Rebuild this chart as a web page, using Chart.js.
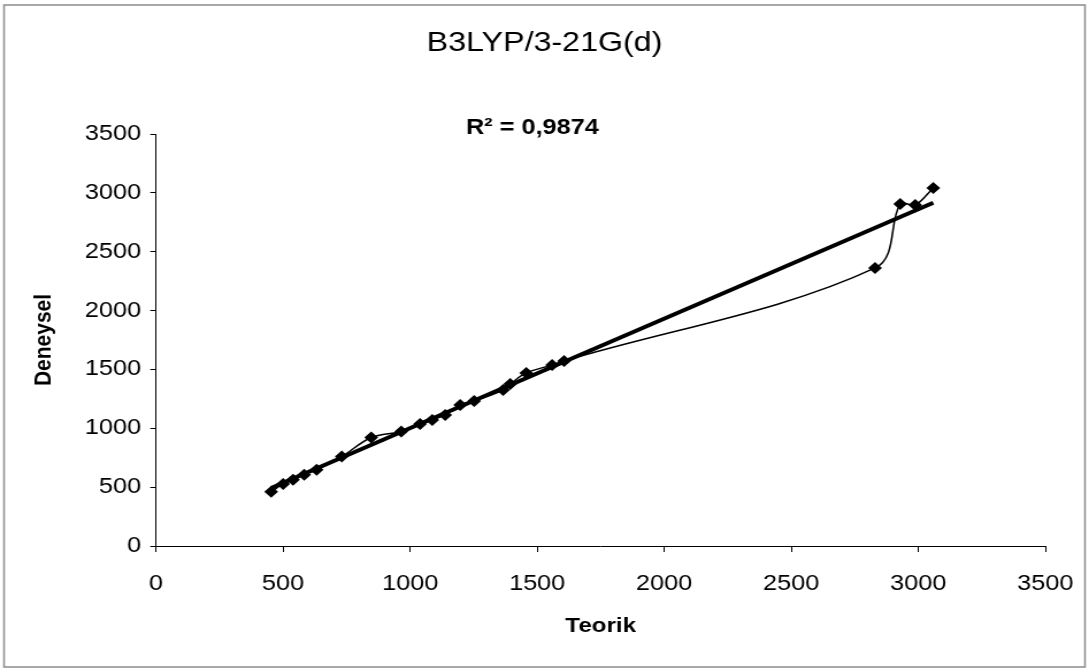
<!DOCTYPE html>
<html>
<head>
<meta charset="utf-8">
<title>B3LYP/3-21G(d)</title>
<script src="https://cdn.jsdelivr.net/npm/chart.js@4.4.1/dist/chart.umd.min.js"></script>
<style>
  html, body { margin: 0; padding: 0; background: #fff; }
  canvas { display: block; }
</style>
</head>
<body>
<!-- drawn at 947 wide, shown at 1089: the figure uses a wide aspect -->
<canvas id="chart-fit" width="947" height="671" style="width:1089px;height:671px"></canvas>
<script>
// computed vs. experimental frequencies (cm-1)
const teorik = [453, 500, 539, 583, 632, 731, 847, 965, 1039, 1087, 1138, 1197, 1252, 1366, 1394, 1457, 1559, 1606, 2830, 2929, 2988, 3059];
const deneysel = [460, 527, 563, 606, 648, 760, 922, 973, 1036, 1071, 1113, 1198, 1232, 1325, 1376, 1470, 1538, 1572, 2362, 2906, 2897, 3042];

const xTicks = [0, 500, 1000, 1500, 2000, 2500, 3000, 3500];
const yTicks = [0, 500, 1000, 1500, 2000, 2500, 3000, 3500];

const titleText = "B3LYP/3-21G(d)";
const r2Text = "R\u00b2 = 0,9874";
const xTitle = "Teorik";
const yTitle = "Deneysel";

const FONT = "'Liberation Sans', Arial, Helvetica, sans-serif";

// least squares line over the measured points
function linearFit(xs, ys) {
  const n = xs.length;
  const mx = xs.reduce((a, b) => a + b, 0) / n;
  const my = ys.reduce((a, b) => a + b, 0) / n;
  let sxy = 0, sxx = 0;
  xs.forEach((x, i) => {
    sxy += (x - mx) * (ys[i] - my);
    sxx += (x - mx) * (x - mx);
  });
  const slope = sxy / sxx;
  return { slope, intercept: my - slope * mx };
}

const fit = linearFit(teorik, deneysel);
const xMin = Math.min(...teorik);
const xMax = Math.max(...teorik);
const trendPoints = [xMin, xMax].map((x) => ({ x, y: fit.intercept + fit.slope * x }));

const points = teorik.map((x, i) => ({ x, y: deneysel[i] }));

// title, R² note and the outer frame
const decorations = {
  id: "decorations",
  beforeDraw(chart) {
    const ctx = chart.ctx;
    ctx.save();
    ctx.fillStyle = "#fff";
    ctx.fillRect(0, 0, chart.width, chart.height);
    ctx.restore();
  },
  afterDraw(chart) {
    const ctx = chart.ctx;
    ctx.save();
    ctx.strokeStyle = "#8c8c8c";
    ctx.lineWidth = 1.5;
    ctx.strokeRect(3.5, 5, chart.width - 7, chart.height - 9);

    ctx.fillStyle = "#000";
    ctx.textAlign = "center";
    ctx.textBaseline = "middle";
    ctx.font = `28px ${FONT}`;
    ctx.fillText(titleText, chart.width / 2, 43);

    ctx.font = `bold 22px ${FONT}`;
    ctx.fillText(r2Text, 463, 128);
    ctx.restore();
  },
};

const tickFont = { family: FONT, size: 22 };
const axisTitleFont = { family: FONT, size: 21, weight: "bold" };
const plainNumber = (value) => String(value);

new Chart(document.querySelector("#chart-fit").getContext("2d"), {
  type: "scatter",
  data: {
    datasets: [
      {
        label: "Trend",
        data: trendPoints,
        showLine: true,
        borderColor: "#000",
        borderWidth: 4,
        pointRadius: 0,
        order: 0,
      },
      {
        label: yTitle,
        data: points,
        showLine: true,
        tension: 0.35,
        borderColor: "#000",
        borderWidth: 1.5,
        pointStyle: "rectRot",
        pointRadius: 6,
        pointBackgroundColor: "#000",
        pointBorderWidth: 0,
        order: 1,
      },
    ],
  },
  options: {
    responsive: false,
    animation: false,
    layout: { padding: { top: 134, right: 38, bottom: 0, left: 0 } },
    plugins: {
      legend: { display: false },
      tooltip: { enabled: false },
    },
    scales: {
      x: {
        type: "linear",
        min: 0,
        max: 3500,
        afterBuildTicks: (s) => { s.ticks = xTicks.map((v) => ({ value: v })); },
        afterFit: (s) => {
          s.height = 125;
          // the right margin is set by the layout padding alone
          s.paddingLeft = 0;
          s.paddingRight = 0;
        },
        grid: { drawOnChartArea: false, tickLength: 6, color: "#000" },
        border: { color: "#000", width: 1 },
        ticks: { color: "#000", font: tickFont, padding: 19, maxRotation: 0, callback: plainNumber },
        title: {
          display: true,
          text: xTitle,
          color: "#000",
          font: axisTitleFont,
          padding: { top: 0, bottom: 32 },
        },
      },
      y: {
        type: "linear",
        min: 0,
        max: 3500,
        afterBuildTicks: (s) => { s.ticks = yTicks.map((v) => ({ value: v })); },
        afterFit: (s) => { s.width = 135.7; },
        grid: { drawOnChartArea: false, tickLength: 5, color: "#000" },
        border: { color: "#000", width: 1 },
        ticks: { color: "#000", font: tickFont, padding: 8, callback: plainNumber },
        title: {
          display: true,
          text: yTitle,
          color: "#000",
          font: axisTitleFont,
          padding: { top: 26, bottom: 0 },
        },
      },
    },
  },
  plugins: [decorations],
});
</script>
</body>
</html>
